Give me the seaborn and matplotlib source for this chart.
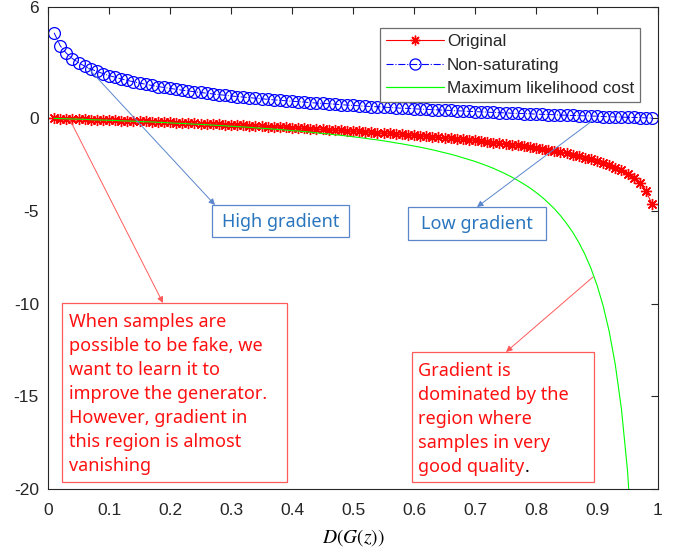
import matplotlib
matplotlib.use("Agg")
import matplotlib.pyplot as plt
from matplotlib.patches import Rectangle
from matplotlib.lines import Line2D
import seaborn as sns
import numpy as np

# ---------------- data ----------------
d_values = [0.01, 0.02, 0.03, 0.04, 0.05, 0.06, 0.07, 0.08, 0.09, 0.10,
            0.11, 0.12, 0.13, 0.14, 0.15, 0.16, 0.17, 0.18, 0.19, 0.20,
            0.21, 0.22, 0.23, 0.24, 0.25, 0.26, 0.27, 0.28, 0.29, 0.30,
            0.31, 0.32, 0.33, 0.34, 0.35, 0.36, 0.37, 0.38, 0.39, 0.40,
            0.41, 0.42, 0.43, 0.44, 0.45, 0.46, 0.47, 0.48, 0.49, 0.50,
            0.51, 0.52, 0.53, 0.54, 0.55, 0.56, 0.57, 0.58, 0.59, 0.60,
            0.61, 0.62, 0.63, 0.64, 0.65, 0.66, 0.67, 0.68, 0.69, 0.70,
            0.71, 0.72, 0.73, 0.74, 0.75, 0.76, 0.77, 0.78, 0.79, 0.80,
            0.81, 0.82, 0.83, 0.84, 0.85, 0.86, 0.87, 0.88, 0.89, 0.90,
            0.91, 0.92, 0.93, 0.94, 0.95, 0.96, 0.97, 0.98, 0.99]

original = [-0.01, -0.02, -0.03, -0.04, -0.05, -0.06, -0.07, -0.08, -0.09, -0.11,
            -0.12, -0.13, -0.14, -0.15, -0.16, -0.17, -0.19, -0.20, -0.21, -0.22,
            -0.24, -0.25, -0.26, -0.27, -0.29, -0.30, -0.31, -0.33, -0.34, -0.36,
            -0.37, -0.39, -0.40, -0.42, -0.43, -0.45, -0.46, -0.48, -0.49, -0.51,
            -0.53, -0.54, -0.56, -0.58, -0.60, -0.62, -0.63, -0.65, -0.67, -0.69,
            -0.71, -0.73, -0.76, -0.78, -0.80, -0.82, -0.84, -0.87, -0.89, -0.92,
            -0.94, -0.97, -0.99, -1.02, -1.05, -1.08, -1.11, -1.14, -1.17, -1.20,
            -1.24, -1.27, -1.31, -1.35, -1.39, -1.43, -1.47, -1.51, -1.56, -1.61,
            -1.66, -1.71, -1.77, -1.83, -1.90, -1.97, -2.04, -2.12, -2.21, -2.30,
            -2.41, -2.53, -2.66, -2.81, -3.00, -3.22, -3.51, -3.91, -4.61]

non_saturating = [4.61, 3.91, 3.51, 3.22, 3.00, 2.81, 2.66, 2.53, 2.41, 2.30,
                  2.21, 2.12, 2.04, 1.97, 1.90, 1.83, 1.77, 1.71, 1.66, 1.61,
                  1.56, 1.51, 1.47, 1.43, 1.39, 1.35, 1.31, 1.27, 1.24, 1.20,
                  1.17, 1.14, 1.11, 1.08, 1.05, 1.02, 0.99, 0.97, 0.94, 0.92,
                  0.89, 0.87, 0.84, 0.82, 0.80, 0.78, 0.76, 0.73, 0.71, 0.69,
                  0.67, 0.65, 0.63, 0.62, 0.60, 0.58, 0.56, 0.54, 0.53, 0.51,
                  0.49, 0.48, 0.46, 0.45, 0.43, 0.42, 0.40, 0.39, 0.37, 0.36,
                  0.34, 0.33, 0.31, 0.30, 0.29, 0.27, 0.26, 0.25, 0.24, 0.22,
                  0.21, 0.20, 0.19, 0.17, 0.16, 0.15, 0.14, 0.13, 0.12, 0.11,
                  0.09, 0.08, 0.07, 0.06, 0.05, 0.04, 0.03, 0.02, 0.01]

max_likelihood = [-0.01, -0.02, -0.03, -0.04, -0.05, -0.06, -0.08, -0.09, -0.10, -0.11,
                  -0.12, -0.14, -0.15, -0.16, -0.18, -0.19, -0.20, -0.22, -0.23, -0.25,
                  -0.27, -0.28, -0.30, -0.32, -0.33, -0.35, -0.37, -0.39, -0.41, -0.43,
                  -0.45, -0.47, -0.49, -0.52, -0.54, -0.56, -0.59, -0.61, -0.64, -0.67,
                  -0.69, -0.72, -0.75, -0.79, -0.82, -0.85, -0.89, -0.92, -0.96, -1.00,
                  -1.04, -1.08, -1.13, -1.17, -1.22, -1.27, -1.33, -1.38, -1.44, -1.50,
                  -1.56, -1.63, -1.70, -1.78, -1.86, -1.94, -2.03, -2.13, -2.23, -2.33,
                  -2.45, -2.57, -2.70, -2.85, -3.00, -3.17, -3.35, -3.55, -3.76, -4.00,
                  -4.26, -4.56, -4.88, -5.25, -5.67, -6.14, -6.69, -7.33, -8.09, -9.00,
                  -10.11, -11.50, -13.29, -15.67, -19.00, -24.00, -32.33, -49.00, -99.00]

series_names = ["Original", "Non-saturating", "Maximum likelihood cost"]
x_ticks = [0, 0.1, 0.2, 0.3, 0.4, 0.5, 0.6, 0.7, 0.8, 0.9, 1]
x_tick_labels = ["0", "0.1", "0.2", "0.3", "0.4", "0.5", "0.6", "0.7", "0.8", "0.9", "1"]
y_ticks = [-20, -15, -10, -5, 0, 6]
y_tick_labels = ["-20", "-15", "-10", "-5", "0", "6"]

left_note = ["When samples are", "possible to be fake, we", "want to learn it to",
             "improve the generator.", "However, gradient in",
             "this region is almost", "vanishing"]
right_note = ["Gradient is", "dominated by the", "region where",
              "samples in very", "good quality"]

# ---------------- figure ----------------
sns.set_theme(style="white")
plt.rcParams["font.family"] = ["Liberation Sans", "DejaVu Sans"]
plt.rcParams["mathtext.fontset"] = "stix"

W, H = 675, 552
fig = plt.figure(figsize=(W / 100, H / 100), dpi=100)
ax = fig.add_axes([48 / W, 1 - 489 / H, 610 / W, 482 / H])

AX_COL = "#262626"
RED, BLUE, GREEN = "#FF0000", "#0000FF", "#00FF00"
STAR = (8, 2, 0)

sns.lineplot(x=d_values, y=original, ax=ax, color=RED, lw=0.7,
             marker=STAR, markersize=8, markeredgewidth=1.0,
             markeredgecolor=RED, markerfacecolor=RED,
             label=series_names[0], legend=False)
sns.lineplot(x=d_values, y=non_saturating, ax=ax, color=BLUE, lw=0.7,
             linestyle="-.", marker="o", markersize=8.5, markerfacecolor="none",
             markeredgewidth=0.9, markeredgecolor=BLUE,
             label=series_names[1], legend=False)
sns.lineplot(x=d_values, y=max_likelihood, ax=ax, color=GREEN, lw=0.8,
             label=series_names[2], legend=False)

ax.set_xlim(0, 1)
ax.set_ylim(-20, 6)
ax.set_xticks(x_ticks)
ax.set_xticklabels(x_tick_labels)
ax.set_yticks(y_ticks)
ax.set_yticklabels(y_tick_labels)
ax.tick_params(axis="both", direction="in", length=5, width=0.8, colors=AX_COL,
               labelsize=12.5, top=True, right=True)
ax.tick_params(axis="x", pad=10)
ax.tick_params(axis="y", pad=6.5)
for s in ax.spines.values():
    s.set_visible(True)
    s.set_color(AX_COL)
    s.set_linewidth(0.8)
ax.grid(False)

ax.set_xlabel(r"$D(G(z))$", fontsize=14, color="black")
ax.xaxis.set_label_coords(0.5, -0.078)
ax.xaxis.label.set_va("top")

handles = [
    Line2D([], [], color=RED, lw=0.8, marker=STAR, markersize=7,
           markeredgewidth=1.0, markeredgecolor=RED, markerfacecolor=RED),
    Line2D([], [], color=BLUE, lw=0.8, linestyle="-.", marker="o",
           markersize=8, markerfacecolor="none", markeredgewidth=0.9,
           markeredgecolor=BLUE),
    Line2D([], [], color=GREEN, lw=0.9),
]
leg = ax.legend(handles, series_names, loc="upper right",
                bbox_to_anchor=(592 / 610, (489 - 28) / 482), borderaxespad=0,
                fontsize=12.3, frameon=True, fancybox=False, framealpha=1,
                edgecolor="#6E6E6E", handlelength=3.35, handletextpad=0.18,
                labelspacing=0.5, borderpad=0.35, numpoints=1)
leg.get_frame().set_linewidth(0.9)


def fxy(px, py):
    return (px / W, 1 - py / H)


def box(x0, y0, x1, y1, color, lw=0.9):
    fig.add_artist(Rectangle(fxy(x0, y1), (x1 - x0) / W, (y1 - y0) / H,
                             transform=fig.transFigure, fill=False,
                             edgecolor=color, lw=lw, zorder=5))


def arrow(tail, head, color):
    ax.annotate("", xy=fxy(*head), xytext=fxy(*tail), xycoords="figure fraction",
                textcoords="figure fraction", annotation_clip=False,
                arrowprops=dict(arrowstyle="-|>", color=color, lw=0.7,
                                mutation_scale=9, shrinkA=0, shrinkB=0),
                zorder=6)


NOTE_FONT = ["Noto Sans", "DejaVu Sans"]
BLUE_TXT = "#2A76BE"
BLUE_LINE = "#5A86CC"
RED_TXT = "#FF1010"
RED_LINE = "#FF5A5A"

# blue notes
box(212, 205, 349, 237, BLUE_LINE)
fig.text(*fxy(280.5, 222), "High gradient", ha="center", va="center",
         fontsize=13, color=BLUE_TXT, family=NOTE_FONT)
arrow((88, 68), (215, 205), BLUE_LINE)

box(408, 207, 546, 240, BLUE_LINE)
fig.text(*fxy(477, 223.5), "Low gradient", ha="center", va="center",
         fontsize=13, color=BLUE_TXT, family=NOTE_FONT)
arrow((592, 121), (477, 207), BLUE_LINE)

# red notes
box(62, 303, 287, 482, RED_LINE)
for i, line in enumerate(left_note):
    fig.text(*fxy(69, 327 + 24 * i), line, ha="left", va="baseline",
             fontsize=13, color=RED_TXT, family=NOTE_FONT)
arrow((70, 120), (163, 303), RED_LINE)

box(412, 352, 594, 482, RED_LINE)
last_txt = None
for i, line in enumerate(right_note):
    last_txt = fig.text(*fxy(418, 376 + 24 * i), line, ha="left", va="baseline",
                        fontsize=13, color=RED_TXT, family=NOTE_FONT)
arrow((593, 277), (506, 352), RED_LINE)

fig.canvas.draw()
bb = last_txt.get_window_extent(fig.canvas.get_renderer())
fig.text(bb.x1 / W, 1 - (376 + 24 * 4) / H, ".", ha="left", va="baseline",
         fontsize=13, color="black", family=NOTE_FONT)

fig.savefig("out.png", dpi=100)
